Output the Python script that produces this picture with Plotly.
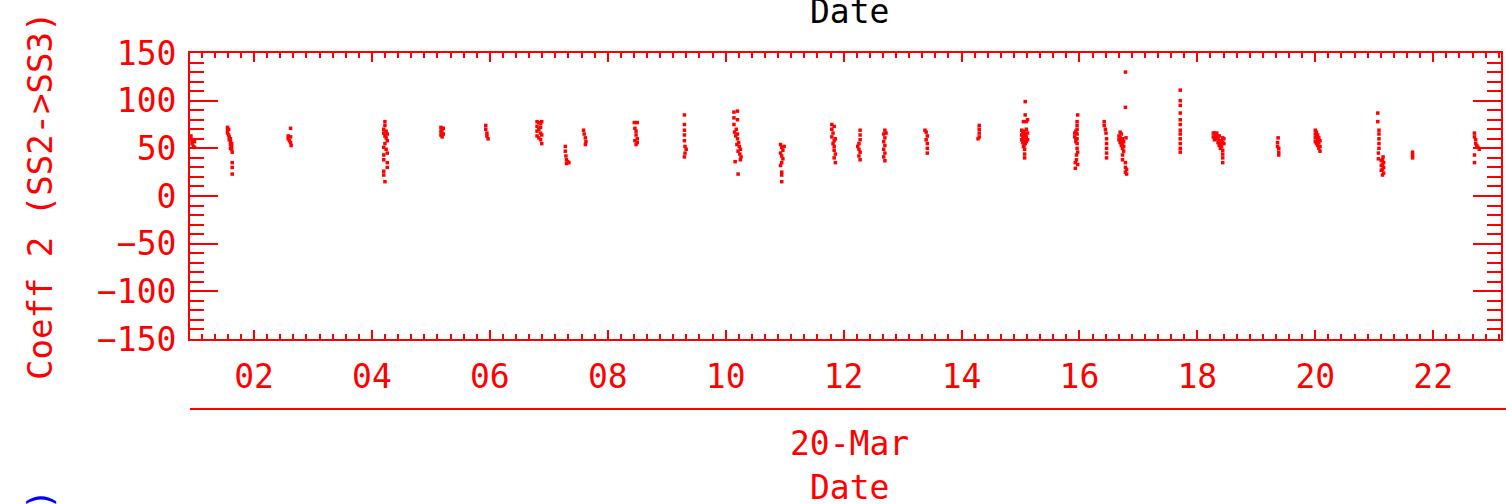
import plotly.graph_objects as go

# ---- data (hours of 20-Mar, Coeff 2 values) ----
hours = [
    0.93, 0.93, 0.95, 0.95, 0.97, 0.99, 0.99,
    1.55, 1.55, 1.55, 1.57, 1.57, 1.58, 1.58, 1.60, 1.60, 1.60, 1.62, 1.62, 1.62, 1.60, 1.63, 1.63, 1.63, 1.63,
    2.62, 2.58, 2.58, 2.60, 2.62, 2.62, 2.63,
    4.22, 4.22, 4.20, 4.20, 4.22, 4.24, 4.24, 4.26, 4.26, 4.22, 4.20, 4.24, 4.20, 4.20, 4.26, 4.26, 4.20, 4.20, 4.22, 4.26,
    5.17, 5.17, 5.17, 5.19, 5.19, 5.19, 5.21, 5.21,
    5.93, 5.93, 5.95, 5.95, 5.97,
    6.80, 6.80, 6.80, 6.80, 6.83, 6.83, 6.83, 6.86, 6.86, 6.86, 6.86, 6.88, 6.88, 6.88,
    7.28, 7.28, 7.29, 7.30, 7.32, 7.34, 7.30,
    7.59, 7.60, 7.62, 7.63, 7.62,
    8.45, 8.50, 8.46, 8.48, 8.48, 8.50, 8.50, 8.48, 8.46,
    9.30, 9.30, 9.30, 9.30, 9.30, 9.31, 9.33, 9.31, 9.30,
    10.14, 10.14, 10.14, 10.20, 10.20, 10.18, 10.15, 10.17, 10.20, 10.22, 10.19, 10.23, 10.25, 10.21, 10.24, 10.26, 10.25, 10.16, 10.21, 10.20,
    10.93, 10.95, 10.97, 10.93, 10.95, 10.97, 10.95, 10.93, 10.95, 10.95, 10.95, 10.99,
    11.80, 11.80, 11.82, 11.80, 11.84, 11.84, 11.82, 11.86, 11.84, 11.84, 11.86, 11.84, 11.86,
    12.28, 12.28, 12.28, 12.26, 12.24, 12.26, 12.28, 12.26, 12.28,
    12.70, 12.68, 12.70, 12.68, 12.70, 12.68, 12.70, 12.68, 12.70, 12.72,
    13.38, 13.40, 13.42, 13.40, 13.42, 13.42, 13.42,
    14.30, 14.30, 14.30, 14.30, 14.28,
    15.08, 15.08, 15.05, 15.10, 15.12, 15.02, 15.02, 15.02, 15.04, 15.04, 15.04, 15.06, 15.06, 15.06, 15.06,
    15.08, 15.08, 15.08, 15.10, 15.10, 15.10, 15.12, 15.12, 15.07, 15.07, 15.07, 15.05,
    15.97, 15.92, 15.92, 15.94, 15.94, 15.94, 15.96, 15.96, 15.96, 15.96, 15.96, 15.96, 15.96, 15.97, 15.95, 15.95, 15.93, 15.93, 15.97,
    16.42, 16.42, 16.44, 16.45, 16.46, 16.46, 16.46, 16.46, 16.46,
    16.78, 16.78, 16.67, 16.67, 16.69, 16.69, 16.69, 16.71, 16.71, 16.71, 16.73, 16.73, 16.73, 16.75, 16.75, 16.75,
    16.79, 16.73, 16.73, 16.78, 16.78, 16.78, 16.80, 16.80,
    17.71, 17.71, 17.71, 17.71, 17.71, 17.71, 17.71, 17.71, 17.71, 17.71, 17.71, 17.71,
    18.27, 18.27, 18.29, 18.29, 18.31, 18.31, 18.33, 18.33, 18.35, 18.35, 18.37, 18.37, 18.37, 18.39, 18.41, 18.41,
    18.43, 18.43, 18.45, 18.45, 18.43, 18.43, 18.43, 18.43, 18.39,
    19.37, 19.36, 19.36, 19.38, 19.38, 19.38,
    20.00, 20.00, 20.00, 20.00, 20.02, 20.02, 20.02, 20.04, 20.04, 20.04, 20.06, 20.06, 20.06, 20.08, 20.08, 20.08,
    21.06, 21.06, 21.08, 21.08, 21.08, 21.08, 21.08, 21.07, 21.07, 21.15, 21.12, 21.12, 21.14, 21.14, 21.14, 21.16, 21.16, 21.16, 21.14, 21.12,
    21.65, 21.65, 21.65,
    22.70, 22.70, 22.72, 22.72, 22.74, 22.76, 22.78, 22.70, 22.70,
]
coeff2 = [
    63, 60, 58, 55, 52, 57, 51,
    72, 69, 66, 70, 64, 62, 59, 60, 57, 54, 55, 52, 49, 50, 46, 35, 30, 23,
    71, 63, 60, 58, 62, 56, 53,
    78, 74, 70, 66, 63, 68, 61, 65, 58, 55, 51, 49, 43, 38, 35, 30, 26, 22, 15, 45,
    72, 68, 64, 70, 66, 62, 71, 65,
    74, 70, 66, 63, 60,
    78, 73, 68, 63, 77, 70, 61, 76, 72, 66, 59, 78, 64, 55,
    52, 47, 42, 38, 36, 35, 34,
    69, 65, 61, 57, 54,
    77, 77, 71, 68, 64, 60, 56, 54, 58,
    85, 75, 69, 64, 58, 52, 49, 45, 41,
    88, 82, 75, 89, 80, 70, 67, 63, 60, 56, 54, 52, 49, 47, 44, 41, 38, 36, 23, 65,
    54, 51, 48, 45, 42, 39, 35, 32, 25, 22, 15, 52,
    75, 70, 66, 62, 73, 58, 55, 60, 52, 48, 44, 40, 35,
    69, 64, 59, 55, 52, 49, 46, 42, 38,
    69, 65, 61, 57, 53, 49, 45, 41, 37, 66,
    69, 67, 63, 59, 55, 50, 45,
    74, 70, 66, 62, 60,
    99, 85, 78, 78, 80, 69, 64, 59, 66, 61, 56, 68, 63, 58, 53,
    65, 60, 55, 70, 62, 57, 66, 59, 49, 44, 40, 52,
    85, 66, 62, 68, 60, 57, 78, 74, 70, 65, 60, 55, 50, 46, 43, 38, 35, 29, 33,
    78, 74, 70, 66, 60, 55, 50, 45, 40,
    130, 93, 63, 59, 67, 61, 56, 65, 58, 53, 60, 55, 50, 57, 52, 47,
    61, 43, 38, 35, 30, 25, 28, 23,
    111, 100, 95, 87, 80, 75, 69, 65, 60, 55, 50, 46,
    66, 62, 66, 59, 64, 60, 66, 62, 60, 56, 63, 58, 53, 55, 58, 52,
    61, 56, 60, 55, 48, 44, 40, 35, 50,
    61, 56, 52, 50, 46, 43,
    69, 65, 61, 57, 67, 62, 55, 64, 59, 53, 61, 56, 50, 58, 52, 47,
    87, 78, 69, 65, 60, 55, 50, 45, 39, 41, 37, 32, 38, 33, 28, 35, 30, 24, 22, 27,
    46, 43, 40,
    66, 62, 59, 55, 53, 51, 49, 43, 35,
]

x_tick_vals = [2, 4, 6, 8, 10, 12, 14, 16, 18, 20, 22]
x_tick_text = ["02", "04", "06", "08", "10", "12", "14", "16", "18", "20", "22"]
y_tick_vals = [-150, -100, -50, 0, 50, 100, 150]
y_tick_text = ["\u2212150", "\u2212100", "\u221250", "0", "50", "100", "150"]

RED = "#ff0000"
FONT = "DejaVu Sans Mono"

fig = go.Figure()
fig.add_trace(go.Scatter(
    x=hours, y=coeff2, mode="markers",
    marker=dict(symbol="square", size=3.5, color=RED, line=dict(width=0)),
    showlegend=False, hoverinfo="skip",
))

fig.update_layout(
    width=1506, height=504, autosize=False,
    margin=dict(l=190, r=5, t=53, b=165, pad=0, autoexpand=False),
    paper_bgcolor="white", plot_bgcolor="white",
    font=dict(family=FONT, size=33, color=RED),
)

fig.update_xaxes(
    range=[0.914, 23.15], showgrid=False, zeroline=False, automargin=False,
    showline=True, linecolor=RED, linewidth=2, mirror="ticks",
    ticks="inside", ticklen=9, tickwidth=2, tickcolor=RED,
    tickmode="array", tickvals=x_tick_vals, ticktext=x_tick_text,
    tickfont=dict(family=FONT, size=33, color=RED),
    ticklabelstandoff=7,
    minor=dict(ticks="inside", ticklen=5, tickwidth=2, tickcolor=RED,
               tickmode="linear", tick0=0, dtick=2 / 9, showgrid=False),
)
fig.update_yaxes(
    range=[-150, 150], showgrid=False, zeroline=False, automargin=False,
    showline=True, linecolor=RED, linewidth=2, mirror="ticks",
    ticks="inside", ticklen=28, tickwidth=2, tickcolor=RED,
    tickmode="array", tickvals=y_tick_vals, ticktext=y_tick_text,
    tickfont=dict(family=FONT, size=33, color=RED),
    ticklabelstandoff=5,
    minor=dict(ticks="inside", ticklen=14, tickwidth=2, tickcolor=RED,
               tickmode="linear", tick0=0, dtick=10, showgrid=False),
)

# lower date axis line
fig.add_shape(type="line", xref="paper", yref="paper",
              x0=0, x1=1.004, y0=-0.2448, y1=-0.2448,
              line=dict(color=RED, width=2))

ann = [
    dict(text="Date", x=0.5034, y=1.145, font=dict(color="black", size=33, family=FONT)),
    dict(text="20-Mar", x=0.5034, y=-0.367, font=dict(color=RED, size=33, family=FONT)),
    dict(text="Date", x=0.5034, y=-0.5175, font=dict(color=RED, size=33, family=FONT)),
    dict(text="Coeff 2 (SS2->SS3)", x=-0.1144, y=0.5, textangle=-90,
         font=dict(color=RED, size=34, family=FONT)),
]
for a in ann:
    fig.add_annotation(xref="paper", yref="paper", showarrow=False,
                       xanchor="center", yanchor="middle", **a)
# top of the next panel's blue axis title, mostly cut off by the page edge
fig.add_annotation(xref="paper", yref="paper", showarrow=False,
                   text=")", textangle=-90, x=-0.1144, y=-0.52,
                   xanchor="center", yanchor="top",
                   font=dict(color="blue", size=34, family=FONT))

fig.write_html("out.html",
               config={"displayModeBar": False},
               post_script="document.body.style.margin='0px';"
                           "document.body.style.overflow='hidden';")
